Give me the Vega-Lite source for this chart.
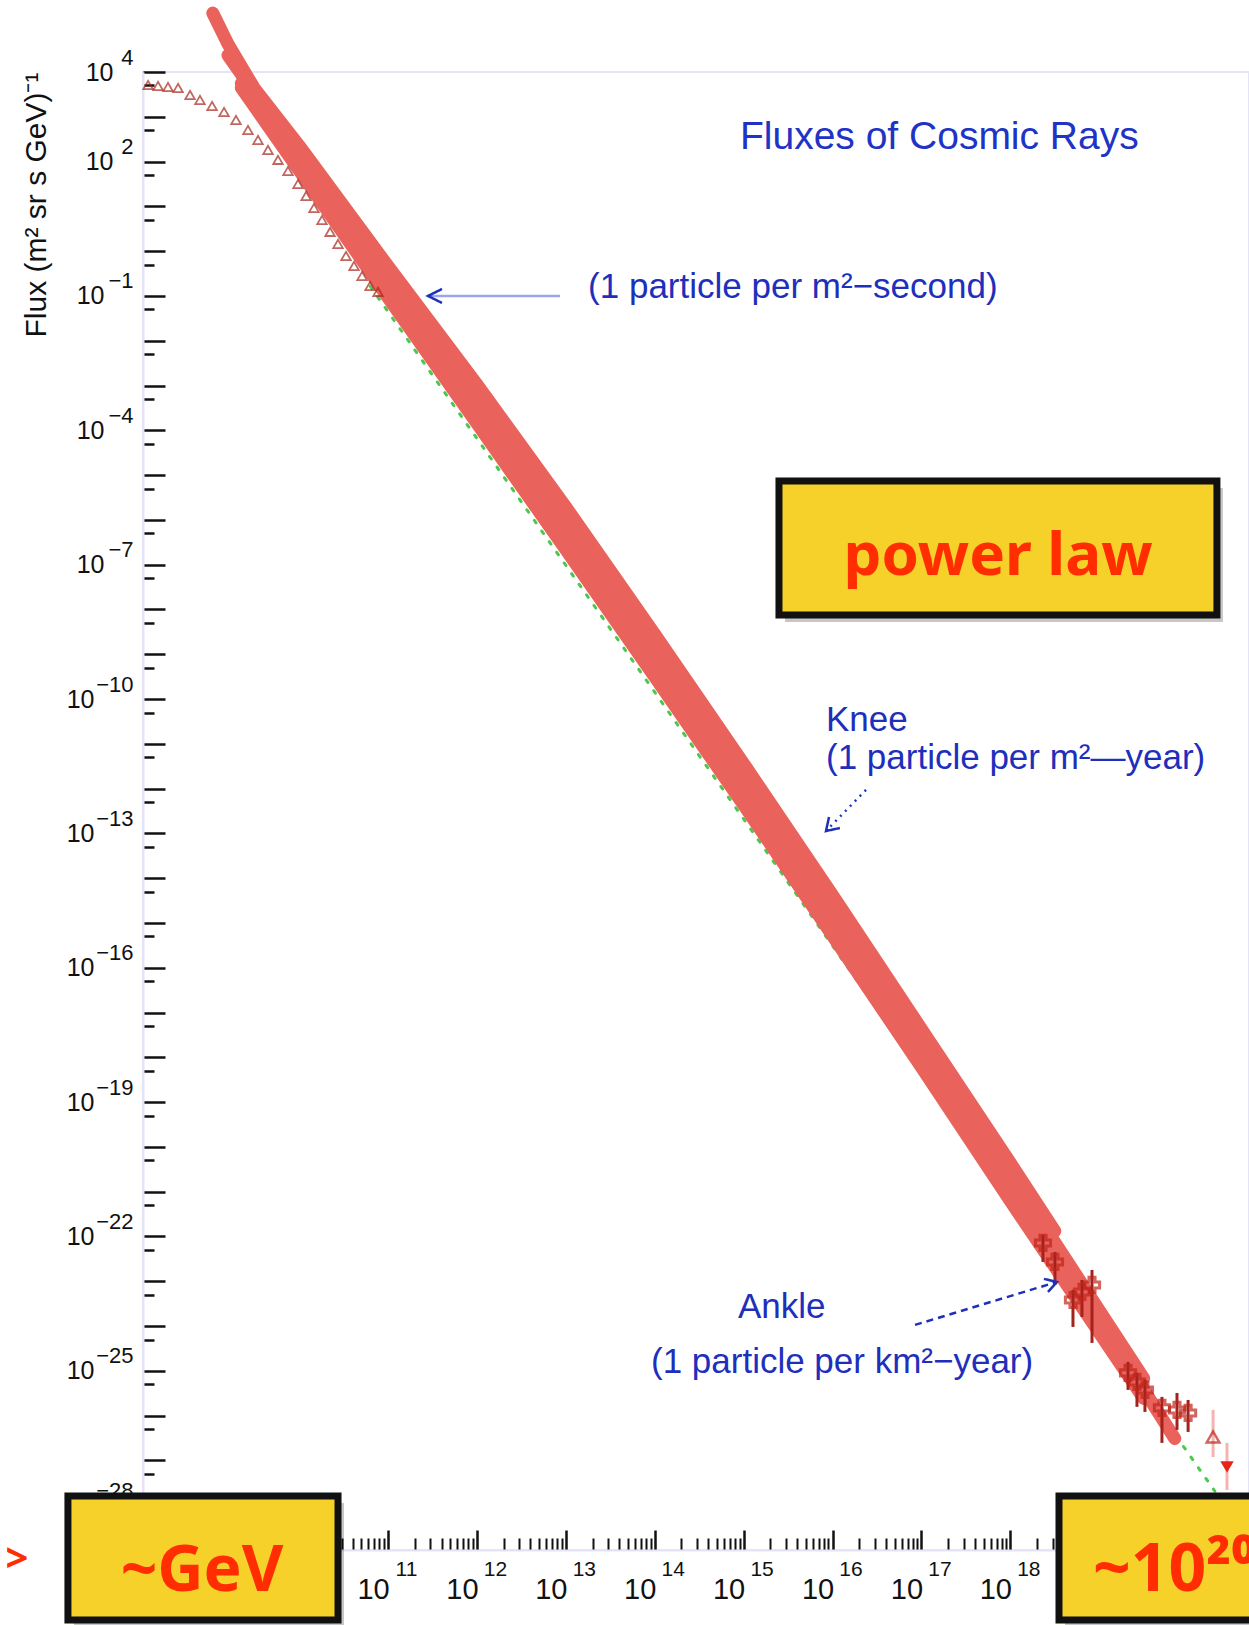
{
  "$schema": "https://vega.github.io/schema/vega-lite/v6.json",
  "width": 1106,
  "height": 1478,
  "autosize": {"type": "none"},
  "padding": {"left": 143, "top": 72, "right": 0, "bottom": 75},
  "background": "white",
  "config": {
    "view": {"stroke": "#E4E4F6", "strokeWidth": 2},
    "axis": {
      "grid": false,
      "domainColor": "#E4E4F6",
      "domainWidth": 2,
      "tickColor": "#111111",
      "labelColor": "#111111",
      "labelFont": "Liberation Sans",
      "titleFont": "Liberation Sans",
      "labelOverlap": false,
      "labelFlush": false,
      "labelBound": false
    }
  },
  "datasets": {
    "fit": [
      {"energy": 6.3e10, "flux": 0.165},
      {"energy": 2.0e20, "flux": 2.05e-28}
    ],
    "band": [
      {"series": "P", "energy": 1.07e9, "flux": 2.07e5},
      {"series": "P", "energy": 1.585e9, "flux": 4.22e4},
      {"series": "P", "energy": 3.162e9, "flux": 4.20e3},
      {"series": "P", "energy": 1e10, "flux": 226},
      {"series": "P", "energy": 1e11, "flux": 0.462},
      {"series": "P", "energy": 1e12, "flux": 1.06e-3},
      {"series": "P", "energy": 1e13, "flux": 1.94e-6},
      {"series": "P", "energy": 1e14, "flux": 2.81e-9},
      {"series": "P", "energy": 1e15, "flux": 3.62e-12},
      {"series": "P", "energy": 1e16, "flux": 4.17e-15},
      {"series": "P", "energy": 1e17, "flux": 4.28e-18},
      {"series": "P", "energy": 1e18, "flux": 4.39e-21},
      {"series": "P", "energy": 3.162e18, "flux": 1.32e-22},
      {"series": "Q", "energy": 1.585e9, "flux": 2.37e4},
      {"series": "Q", "energy": 3.162e9, "flux": 3.33e3},
      {"series": "Q", "energy": 1e10, "flux": 160},
      {"series": "Q", "energy": 1e11, "flux": 0.292},
      {"series": "Q", "energy": 1e12, "flux": 5.97e-4},
      {"series": "Q", "energy": 1e13, "flux": 9.71e-7},
      {"series": "Q", "energy": 1e14, "flux": 1.41e-9},
      {"series": "Q", "energy": 1e15, "flux": 1.82e-12},
      {"series": "Q", "energy": 1e16, "flux": 2.09e-15},
      {"series": "Q", "energy": 1e17, "flux": 2.40e-18},
      {"series": "Q", "energy": 1e18, "flux": 2.47e-21},
      {"series": "Q", "energy": 3.162e18, "flux": 7.45e-23},
      {"series": "Q", "energy": 1e19, "flux": 2.25e-24},
      {"series": "Q", "energy": 3.162e19, "flux": 6.81e-26},
      {"series": "R", "energy": 2.24e9, "flux": 5.61e3},
      {"series": "R", "energy": 3.162e9, "flux": 2.36e3},
      {"series": "R", "energy": 1e10, "flux": 101},
      {"series": "R", "energy": 1e11, "flux": 0.164},
      {"series": "R", "energy": 1e12, "flux": 2.99e-4},
      {"series": "R", "energy": 1e13, "flux": 4.86e-7},
      {"series": "R", "energy": 1e14, "flux": 7.05e-10},
      {"series": "R", "energy": 1e15, "flux": 9.10e-13},
      {"series": "R", "energy": 1e16, "flux": 1.05e-15},
      {"series": "R", "energy": 1e17, "flux": 1.21e-18},
      {"series": "R", "energy": 1e18, "flux": 1.24e-21},
      {"series": "R", "energy": 3.162e18, "flux": 4.19e-23},
      {"series": "R", "energy": 1e19, "flux": 1.27e-24},
      {"series": "R", "energy": 3.162e19, "flux": 3.83e-26},
      {"series": "R", "energy": 7.079e19, "flux": 3.08e-27},
      {"series": "S", "energy": 2.24e9, "flux": 4.46e3},
      {"series": "S", "energy": 1e10, "flux": 63.7},
      {"series": "S", "energy": 1e11, "flux": 9.23e-2},
      {"series": "S", "energy": 1e12, "flux": 1.43e-4},
      {"series": "S", "energy": 1e13, "flux": 2.17e-7},
      {"series": "S", "energy": 1e14, "flux": 3.15e-10},
      {"series": "S", "energy": 1e15, "flux": 4.36e-13},
      {"series": "S", "energy": 1e16, "flux": 5.25e-16},
      {"series": "S", "energy": 1e17, "flux": 6.04e-19},
      {"series": "S", "energy": 1e18, "flux": 6.19e-22},
      {"series": "S", "energy": 3.162e18, "flux": 2.10e-23},
      {"series": "S", "energy": 1e19, "flux": 7.13e-25},
      {"series": "S", "energy": 3.162e19, "flux": 2.42e-26}
    ],
    "lowEnergy": [
      {"energy": 2.0e8, "flux": 5.13e3},
      {"energy": 2.59e8, "flux": 4.88e3},
      {"energy": 3.35e8, "flux": 4.62e3},
      {"energy": 4.35e8, "flux": 4.40e3},
      {"energy": 5.93e8, "flux": 3.07e3},
      {"energy": 7.67e8, "flux": 2.37e3},
      {"energy": 1.05e9, "flux": 1.74e3},
      {"energy": 1.43e9, "flux": 1.28e3},
      {"energy": 1.95e9, "flux": 849},
      {"energy": 2.66e9, "flux": 507},
      {"energy": 3.45e9, "flux": 303},
      {"energy": 4.47e9, "flux": 182},
      {"energy": 5.79e9, "flux": 109},
      {"energy": 7.50e9, "flux": 61.7},
      {"energy": 9.72e9, "flux": 31.6},
      {"energy": 1.20e10, "flux": 17.1},
      {"energy": 1.47e10, "flux": 9.20},
      {"energy": 1.81e10, "flux": 4.97},
      {"energy": 2.23e10, "flux": 2.69},
      {"energy": 2.74e10, "flux": 1.45},
      {"energy": 3.37e10, "flux": 0.782},
      {"energy": 4.15e10, "flux": 0.468},
      {"energy": 5.11e10, "flux": 0.279},
      {"energy": 6.28e10, "flux": 0.167},
      {"energy": 7.73e10, "flux": 0.123}
    ],
    "highEnergy": [
      {"kind": "cross", "energy": 2.33e18, "flux": 7.18e-23, "lo": 2.70e-23, "hi": 1.08e-22},
      {"kind": "cross", "energy": 3.18e18, "flux": 2.70e-23, "lo": 8.28e-24, "hi": 4.52e-23},
      {"kind": "cross", "energy": 5.07e18, "flux": 3.82e-24, "lo": 9.55e-25, "hi": 6.40e-24},
      {"kind": "cross", "energy": 6.40e18, "flux": 5.78e-24, "lo": 1.60e-24, "hi": 1.07e-23},
      {"kind": "cross", "energy": 8.30e18, "flux": 8.28e-24, "lo": 4.20e-25, "hi": 1.79e-23},
      {"kind": "cross", "energy": 2.11e19, "flux": 9.00e-26, "lo": 3.75e-26, "hi": 1.58e-25},
      {"kind": "cross", "energy": 2.66e19, "flux": 5.66e-26, "lo": 1.57e-26, "hi": 9.00e-26},
      {"kind": "cross", "energy": 3.27e19, "flux": 3.75e-26, "lo": 1.21e-26, "hi": 6.27e-26},
      {"kind": "cross", "energy": 5.08e19, "flux": 1.49e-26, "lo": 2.46e-27, "hi": 2.62e-26},
      {"kind": "cross", "energy": 7.50e19, "flux": 1.34e-26, "lo": 4.80e-27, "hi": 3.21e-26},
      {"kind": "cross", "energy": 1.00e20, "flux": 1.15e-26, "lo": 4.33e-27, "hi": 2.24e-26},
      {"kind": "open", "energy": 1.91e20, "flux": 3.34e-27, "lo": 1.19e-27, "hi": 1.34e-26},
      {"kind": "limit", "energy": 2.74e20, "flux": 7.14e-28, "lo": 2.19e-28, "hi": 2.46e-27}
    ],
    "arrows": [
      {"arrow": "a1", "style": "solid", "tone": "light", "order": 1, "energy": 8.61e12, "flux": 0.1},
      {"arrow": "a1", "style": "solid", "tone": "light", "order": 2, "energy": 2.82e11, "flux": 0.1},
      {"arrow": "a1h", "style": "solid", "tone": "dark", "order": 1, "energy": 4.05e11, "flux": 0.143},
      {"arrow": "a1h", "style": "solid", "tone": "dark", "order": 2, "energy": 2.82e11, "flux": 0.1},
      {"arrow": "a1h", "style": "solid", "tone": "dark", "order": 3, "energy": 4.05e11, "flux": 0.0697},
      {"arrow": "a2", "style": "dotted", "tone": "dark", "order": 1, "energy": 2.38e16, "flux": 9.33e-13},
      {"arrow": "a2", "style": "dotted", "tone": "dark", "order": 2, "energy": 8.45e15, "flux": 1.13e-13},
      {"arrow": "a2h", "style": "solid", "tone": "dark", "order": 1, "energy": 1.21e16, "flux": 1.32e-13},
      {"arrow": "a2h", "style": "solid", "tone": "dark", "order": 2, "energy": 8.45e15, "flux": 1.13e-13},
      {"arrow": "a2h", "style": "solid", "tone": "dark", "order": 3, "energy": 9.14e15, "flux": 2.33e-13},
      {"arrow": "a3", "style": "dashed", "tone": "dark", "order": 1, "energy": 8.47e16, "flux": 1.06e-24},
      {"arrow": "a3", "style": "dashed", "tone": "dark", "order": 2, "energy": 3.35e18, "flux": 9.66e-24},
      {"arrow": "a3h", "style": "solid", "tone": "dark", "order": 1, "energy": 2.39e18, "flux": 1.13e-23},
      {"arrow": "a3h", "style": "solid", "tone": "dark", "order": 2, "energy": 3.35e18, "flux": 9.66e-24},
      {"arrow": "a3h", "style": "solid", "tone": "dark", "order": 3, "energy": 2.65e18, "flux": 5.78e-24}
    ],
    "notes": [
      {"kind": "title", "text": "Fluxes of Cosmic Rays", "energy": 9.10e14, "flux": 191},
      {"kind": "note", "text": "(1 particle per m²−second)", "energy": 1.78e13, "flux": 9.0e-2},
      {"kind": "note", "text": "Knee", "energy": 8.45e15, "flux": 1.94e-11},
      {"kind": "note", "text": "(1 particle per m²—year)", "energy": 8.45e15, "flux": 2.74e-12},
      {"kind": "note", "text": "Ankle", "energy": 8.65e14, "flux": 1.52e-24},
      {"kind": "note", "text": "(1 particle per km²−year)", "energy": 9.08e13, "flux": 8.97e-26}
    ],
    "boxes": [
      {"name": "power law", "energy": 2.50e15, "energy2": 2.11e20, "flux": 7.39e-6, "flux2": 7.53e-9},
      {"name": "GeV", "energy": 2.51e7, "energy2": 2.74e10, "flux": 1.61e-28, "flux2": 2.75e-31},
      {"name": "top", "energy": 3.53e18, "energy2": 1.82e21, "flux": 1.61e-28, "flux2": 2.75e-31}
    ],
    "boxLabels": [
      {"kind": "center", "text": "power law", "energy": 7.28e17, "flux": 5.89e-8},
      {"kind": "center", "text": "~GeV", "energy": 8.09e8, "flux": 1.22e-30},
      {"kind": "left", "text": "~10²⁰ eV", "energy": 8.51e18, "flux": 1.22e-30}
    ],
    "pointer": [
      {"text": ">", "energy": 6.71e6, "flux": 6.0e-30}
    ]
  },
  "resolve": {"axis": {"x": "independent", "y": "independent"}},
  "encoding": {
    "x": {"field": "energy", "type": "quantitative", "scale": {"type": "log", "domain": [1.754e8, 4.842e20], "nice": false}, "axis": null},
    "y": {"field": "flux", "type": "quantitative", "scale": {"type": "log", "domain": [1e-29, 1e4], "nice": false}, "axis": null}
  },
  "layer": [
    {
      "data": {"name": "fit"},
      "mark": {"type": "line", "color": "#4CC94C", "strokeWidth": 3, "strokeDash": [3, 10], "strokeCap": "round"},
      "encoding": {
        "x": {
          "field": "energy", "type": "quantitative",
          "scale": {"type": "log", "domain": [1.754e8, 4.842e20], "nice": false},
          "axis": {
            "orient": "bottom", "title": null, "labels": false, "domain": false,
            "tickSize": -12, "tickWidth": 2,
            "values": [2e8,3e8,4e8,5e8,6e8,7e8,8e8,9e8,
              2e9,3e9,4e9,5e9,6e9,7e9,8e9,9e9,
              2e10,3e10,4e10,5e10,6e10,7e10,8e10,9e10,
              2e11,3e11,4e11,5e11,6e11,7e11,8e11,9e11,
              2e12,3e12,4e12,5e12,6e12,7e12,8e12,9e12,
              2e13,3e13,4e13,5e13,6e13,7e13,8e13,9e13,
              2e14,3e14,4e14,5e14,6e14,7e14,8e14,9e14,
              2e15,3e15,4e15,5e15,6e15,7e15,8e15,9e15,
              2e16,3e16,4e16,5e16,6e16,7e16,8e16,9e16,
              2e17,3e17,4e17,5e17,6e17,7e17,8e17,9e17,
              2e18,3e18,4e18,5e18,6e18,7e18,8e18,9e18,
              2e19,3e19,4e19,5e19,6e19,7e19,8e19,9e19,
              2e20,3e20,4e20]
          }
        },
        "y": {
          "field": "flux", "type": "quantitative",
          "scale": {"type": "log", "domain": [1e-29, 1e4], "nice": false},
          "axis": {
            "orient": "left", "title": null, "labels": false, "domain": false,
            "tickSize": -11, "tickWidth": 2.5,
            "values": [5e-29,5e-28,5e-27,5e-26,5e-25,5e-24,5e-23,5e-22,5e-21,5e-20,5e-19,5e-18,5e-17,5e-16,5e-15,5e-14,5e-13,5e-12,5e-11,5e-10,5e-9,5e-8,5e-7,5e-6,5e-5,5e-4,5e-3,5e-2,0.5,5,50,500,5000]
          }
        }
      }
    },
    {
      "data": {"name": "band"},
      "mark": {"type": "line", "color": "#E9625B", "strokeWidth": 13, "strokeCap": "round", "strokeJoin": "round"},
      "encoding": {
        "x": {
          "field": "energy", "type": "quantitative",
          "scale": {"type": "log", "domain": [1.754e8, 4.842e20], "nice": false},
          "axis": {
            "orient": "bottom", "title": null,
            "values": [1e9,1e10,1e11,1e12,1e13,1e14,1e15,1e16,1e17,1e18,1e19,1e20],
            "tickSize": -20, "tickWidth": 2.5,
            "labelExpr": "'10'",
            "labelFontSize": 29, "labelBaseline": "alphabetic",
            "labelPadding": 68, "labelOffset": -15
          }
        },
        "y": {
          "field": "flux", "type": "quantitative",
          "scale": {"type": "log", "domain": [1e-29, 1e4], "nice": false},
          "axis": {
            "orient": "left",
            "values": [1e-29,1e-28,1e-27,1e-26,1e-25,1e-24,1e-23,1e-22,1e-21,1e-20,1e-19,1e-18,1e-17,1e-16,1e-15,1e-14,1e-13,1e-12,1e-11,1e-10,1e-9,1e-8,1e-7,1e-6,1e-5,1e-4,1e-3,1e-2,0.1,1,10,100,1000,10000],
            "tickSize": -22, "tickWidth": 2.5,
            "labelExpr": "(round(log(datum.value)/LN10) == 4 || (2 - round(log(datum.value)/LN10)) % 3 == 0) ? '10' : ''",
            "labelFontSize": 25,
            "labelPadding": {"condition": [{"test": "datum.value >= 100", "value": 52}, {"test": "datum.value >= 0.0000001", "value": 61}], "value": 71},
            "title": "Flux (m² sr s GeV)⁻¹",
            "titleFontSize": 30, "titleFontWeight": "normal", "titleColor": "#111111",
            "titleAnchor": "end", "titlePadding": 15
          }
        },
        "detail": {"field": "series", "type": "nominal"}
      }
    },
    {
      "data": {"name": "lowEnergy"},
      "mark": {"type": "point", "shape": "triangle-up", "filled": false, "color": "#A8281E", "size": 90, "strokeWidth": 1.8},
      "encoding": {
        "x": {
          "field": "energy", "type": "quantitative",
          "scale": {"type": "log", "domain": [1.754e8, 4.842e20], "nice": false},
          "axis": {
            "orient": "bottom", "title": null, "ticks": false, "domain": false,
            "values": [1e9,1e10,1e11,1e12,1e13,1e14,1e15,1e16,1e17,1e18,1e19,1e20],
            "labelExpr": "'' + round(log(datum.value)/LN10)",
            "labelFontSize": 21, "labelBaseline": "alphabetic",
            "labelPadding": 25, "labelOffset": 18
          }
        },
        "y": {
          "field": "flux", "type": "quantitative",
          "scale": {"type": "log", "domain": [1e-29, 1e4], "nice": false},
          "axis": {
            "orient": "left", "title": null, "ticks": false, "domain": false,
            "values": [1e-28,1e-25,1e-22,1e-19,1e-16,1e-13,1e-10,1e-7,1e-4,0.1,100,10000],
            "labelExpr": "replace('' + round(log(datum.value)/LN10), '-', '−')",
            "labelFontSize": 22, "labelAlign": "right",
            "labelPadding": 10, "labelOffset": -15
          }
        }
      }
    },
    {
      "data": {"name": "highEnergy"},
      "transform": [{"filter": "datum.kind == 'cross'"}],
      "mark": {"type": "rule", "color": "#A3221C", "strokeWidth": 3},
      "encoding": {"y": {"field": "lo", "type": "quantitative"}, "y2": {"field": "hi"}}
    },
    {
      "data": {"name": "highEnergy"},
      "transform": [{"filter": "datum.kind != 'cross'"}],
      "mark": {"type": "rule", "color": "#F4B3B0", "strokeWidth": 3},
      "encoding": {"y": {"field": "lo", "type": "quantitative"}, "y2": {"field": "hi"}}
    },
    {
      "data": {"name": "highEnergy"},
      "transform": [{"filter": "datum.kind == 'cross'"}],
      "mark": {"type": "point", "shape": "cross", "filled": false, "color": "#C0241A", "size": 230, "strokeWidth": 3}
    },
    {
      "data": {"name": "highEnergy"},
      "transform": [{"filter": "datum.kind == 'open'"}],
      "mark": {"type": "point", "shape": "triangle-up", "filled": false, "color": "#C0241A", "size": 160, "strokeWidth": 2.5}
    },
    {
      "data": {"name": "highEnergy"},
      "transform": [{"filter": "datum.kind == 'limit'"}],
      "mark": {"type": "point", "shape": "triangle-down", "filled": true, "color": "#E8241A", "size": 180, "opacity": 1}
    },
    {
      "data": {"name": "arrows"},
      "mark": {"type": "line", "strokeWidth": 2.5},
      "encoding": {
        "detail": {"field": "arrow", "type": "nominal"},
        "order": {"field": "order", "type": "quantitative"},
        "color": {"field": "tone", "type": "nominal", "scale": {"domain": ["light", "dark"], "range": ["#9AA6E8", "#1E30B8"]}, "legend": null},
        "strokeDash": {"field": "style", "type": "nominal", "scale": {"domain": ["solid", "dotted", "dashed"], "range": [[1, 0], [2, 5], [7, 5]]}, "legend": null}
      }
    },
    {
      "data": {"name": "notes"},
      "transform": [{"filter": "datum.kind == 'title'"}],
      "mark": {"type": "text", "align": "left", "baseline": "alphabetic", "font": "Liberation Sans", "fontSize": 39, "color": "#2033C4"},
      "encoding": {"text": {"field": "text"}}
    },
    {
      "data": {"name": "notes"},
      "transform": [{"filter": "datum.kind == 'note'"}],
      "mark": {"type": "text", "align": "left", "baseline": "alphabetic", "font": "Liberation Sans", "fontSize": 35, "color": "#1E2FBC"},
      "encoding": {"text": {"field": "text"}}
    },
    {
      "data": {"name": "boxes"},
      "mark": {"type": "rect", "fill": "#000000", "opacity": 0.22, "xOffset": 6, "x2Offset": 6, "yOffset": 7, "y2Offset": 7},
      "encoding": {"x2": {"field": "energy2"}, "y2": {"field": "flux2"}}
    },
    {
      "data": {"name": "boxes"},
      "mark": {"type": "rect", "fill": "#F5D12A", "stroke": "#111111", "strokeWidth": 7},
      "encoding": {"x2": {"field": "energy2"}, "y2": {"field": "flux2"}}
    },
    {
      "data": {"name": "boxLabels"},
      "transform": [{"filter": "datum.text == 'power law'"}],
      "mark": {"type": "text", "align": "center", "baseline": "alphabetic", "font": "Noto Sans", "fontWeight": "bold", "fontSize": 60, "color": "#FF2D00"},
      "encoding": {"text": {"field": "text"}}
    },
    {
      "data": {"name": "boxLabels"},
      "transform": [{"filter": "datum.text != 'power law' && datum.kind == 'center'"}],
      "mark": {"type": "text", "align": "center", "baseline": "alphabetic", "font": "Noto Sans", "fontWeight": "bold", "fontSize": 64, "color": "#FF2D00"},
      "encoding": {"text": {"field": "text"}}
    },
    {
      "data": {"name": "boxLabels"},
      "transform": [{"filter": "datum.kind == 'left'"}],
      "mark": {"type": "text", "align": "left", "baseline": "alphabetic", "font": "Noto Sans", "fontWeight": "bold", "fontSize": 66, "color": "#FF2D00"},
      "encoding": {"text": {"field": "text"}}
    },
    {
      "data": {"name": "pointer"},
      "mark": {"type": "text", "align": "center", "baseline": "middle", "font": "Noto Sans", "fontWeight": "bold", "fontSize": 40, "color": "#FF2D00"},
      "encoding": {"text": {"field": "text"}}
    }
  ]
}
